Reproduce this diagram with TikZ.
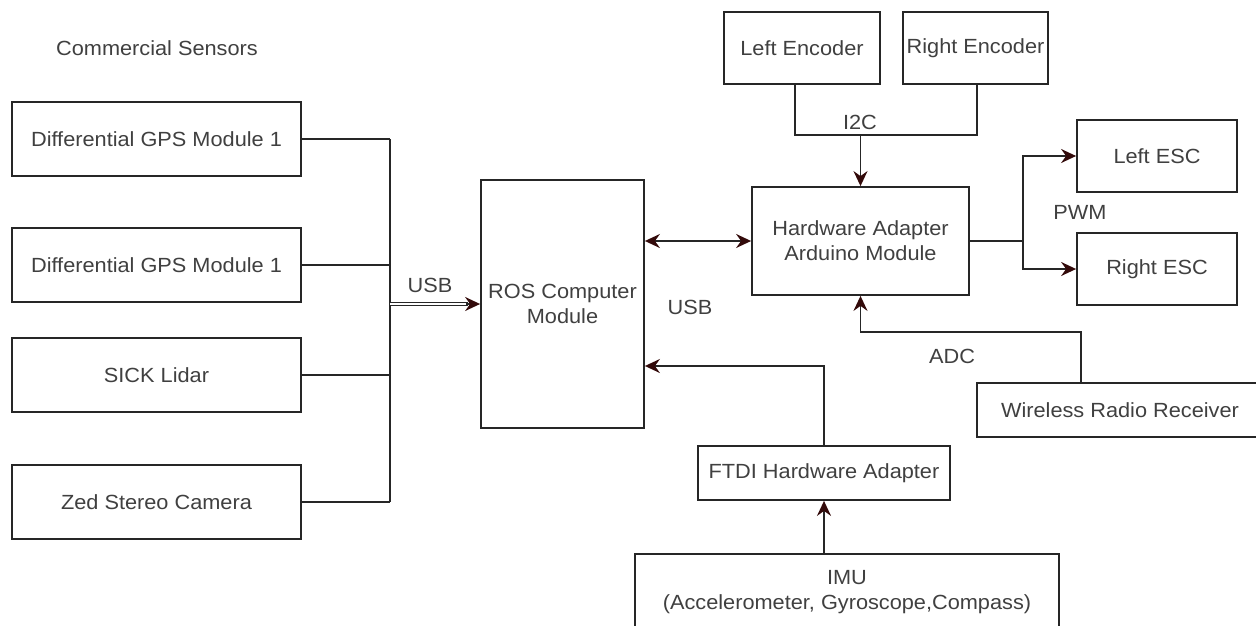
\documentclass[tikz,border=0pt]{standalone}
\usepackage{fontspec}
\setmainfont{Liberation Sans}[FakeStretch=1.06]
\usetikzlibrary{arrows.meta,calc}
\definecolor{txt}{HTML}{404040}
\definecolor{ln}{HTML}{262626}
\definecolor{tipc}{HTML}{330a0a}
\tikzset{
  box/.style={draw=ln, line width=1.8pt, fill=white, text=txt, align=center, inner sep=0pt,
    font=\fontsize{20.5}{25}\selectfont},
  lbl/.style={text=txt, inner sep=0pt, font=\fontsize{20.5}{25}\selectfont},
  conn/.style={draw=ln, line width=1.8pt},
  tipst/.tip={Stealth[length=15pt,width=14pt,inset=5pt,color=tipc]}
}
\begin{document}
\begin{tikzpicture}[x=1pt,y=-1pt]
\useasboundingbox (0,0) rectangle (1256,626);
\clip (0,0) rectangle (1256,626);
\fill[white] (0,0) rectangle (1256,626);

% boxes
\node[box, minimum width=289pt, minimum height=74pt] (gps1) at (156.5,139) {Differential GPS Module 1};
\node[box, minimum width=289pt, minimum height=74pt] (gps2) at (156.5,265) {Differential GPS Module 1};
\node[box, minimum width=289pt, minimum height=74pt] (lidar) at (156.5,375) {SICK Lidar};
\node[box, minimum width=289pt, minimum height=74pt] (zed) at (156.5,502) {Zed Stereo Camera};
\node[box, minimum width=163pt, minimum height=248pt] (ros) at (562.5,304) {ROS Computer\\Module};
\node[box, minimum width=217pt, minimum height=108pt] (hw) at (860.5,241) {Hardware Adapter\\Arduino Module};
\node[box, minimum width=156pt, minimum height=72pt] (lenc) at (802,48) {Left Encoder};
\node[box, minimum width=145pt, minimum height=72pt] (renc) at (975.5,48) {Right Encoder};
\node[box, minimum width=160pt, minimum height=72pt] (lesc) at (1157,156) {Left ESC};
\node[box, minimum width=160pt, minimum height=72pt] (resc) at (1157,269) {Right ESC};
\node[box, minimum width=286pt, minimum height=54pt] (radio) at (1120,410) {Wireless Radio Receiver};
\node[box, minimum width=252pt, minimum height=54pt] (ftdi) at (824,473) {FTDI Hardware Adapter};
\node[box, minimum width=424pt, minimum height=76pt] (imu) at (847,592) {IMU\\(Accelerometer, Gyroscope,Compass)};

% labels
\node[lbl] (cs) at (157,48) {Commercial Sensors};
\node[lbl] (usb1) at (430,285) {USB};
\node[lbl] (usb2) at (690,307) {USB};
\node[lbl] (i2c) at (860,122) {I2C};
\node[lbl] (pwm) at (1080,212) {PWM};
\node[lbl] (adc) at (952,356) {ADC};

% sensor bus
\coordinate (bt) at (390,139);
\coordinate (bb) at (390,502);
\draw[conn] (gps1.east) -- (gps1.east -| bt);
\draw[conn] (gps2.east) -- (gps2.east -| bt);
\draw[conn] (lidar.east) -- (lidar.east -| bt);
\draw[conn] (zed.east) -- (zed.east -| bt);
\draw[conn] (bt) -- (bb);
\draw[conn, line width=1.1pt, double=white, double distance=1.8pt] (bt |- ros.west) -- ([xshift=-12pt]ros.west);
\draw[conn, -{tipst}] ([xshift=-14pt]ros.west) -- (ros.west);

% ROS <-> HW
\draw[conn, {tipst}-{tipst}] (ros.east |- hw.west) -- (hw.west);

% I2C
\coordinate (i2cl) at (795,135);
\coordinate (i2cr) at (977,135);
\draw[conn] (i2cl |- lenc.south) -- (i2cl) -- (i2cr) -- (i2cr |- renc.south);
\draw[conn, -{tipst}] (hw.north |- i2cl) -- (hw.north);

% PWM
\coordinate (pw) at (1023,241);
\draw[conn] (hw.east) -- (pw);
\draw[conn, -{tipst}] (pw) |- (lesc.west);
\draw[conn, -{tipst}] (pw) |- (resc.west);

% ADC
\coordinate (ad) at (1081,332);
\draw[conn, -{tipst}] (ad |- radio.north) -- (ad) -| (hw.south);

% FTDI -> ROS
\coordinate (ft) at (824,366);
\draw[conn, -{tipst}] (ftdi.north) -- (ft) -- (ft -| ros.east);

% IMU -> FTDI
\draw[conn, -{tipst}] (imu.north -| ftdi.south) -- (ftdi.south);
\end{tikzpicture}
\end{document}
